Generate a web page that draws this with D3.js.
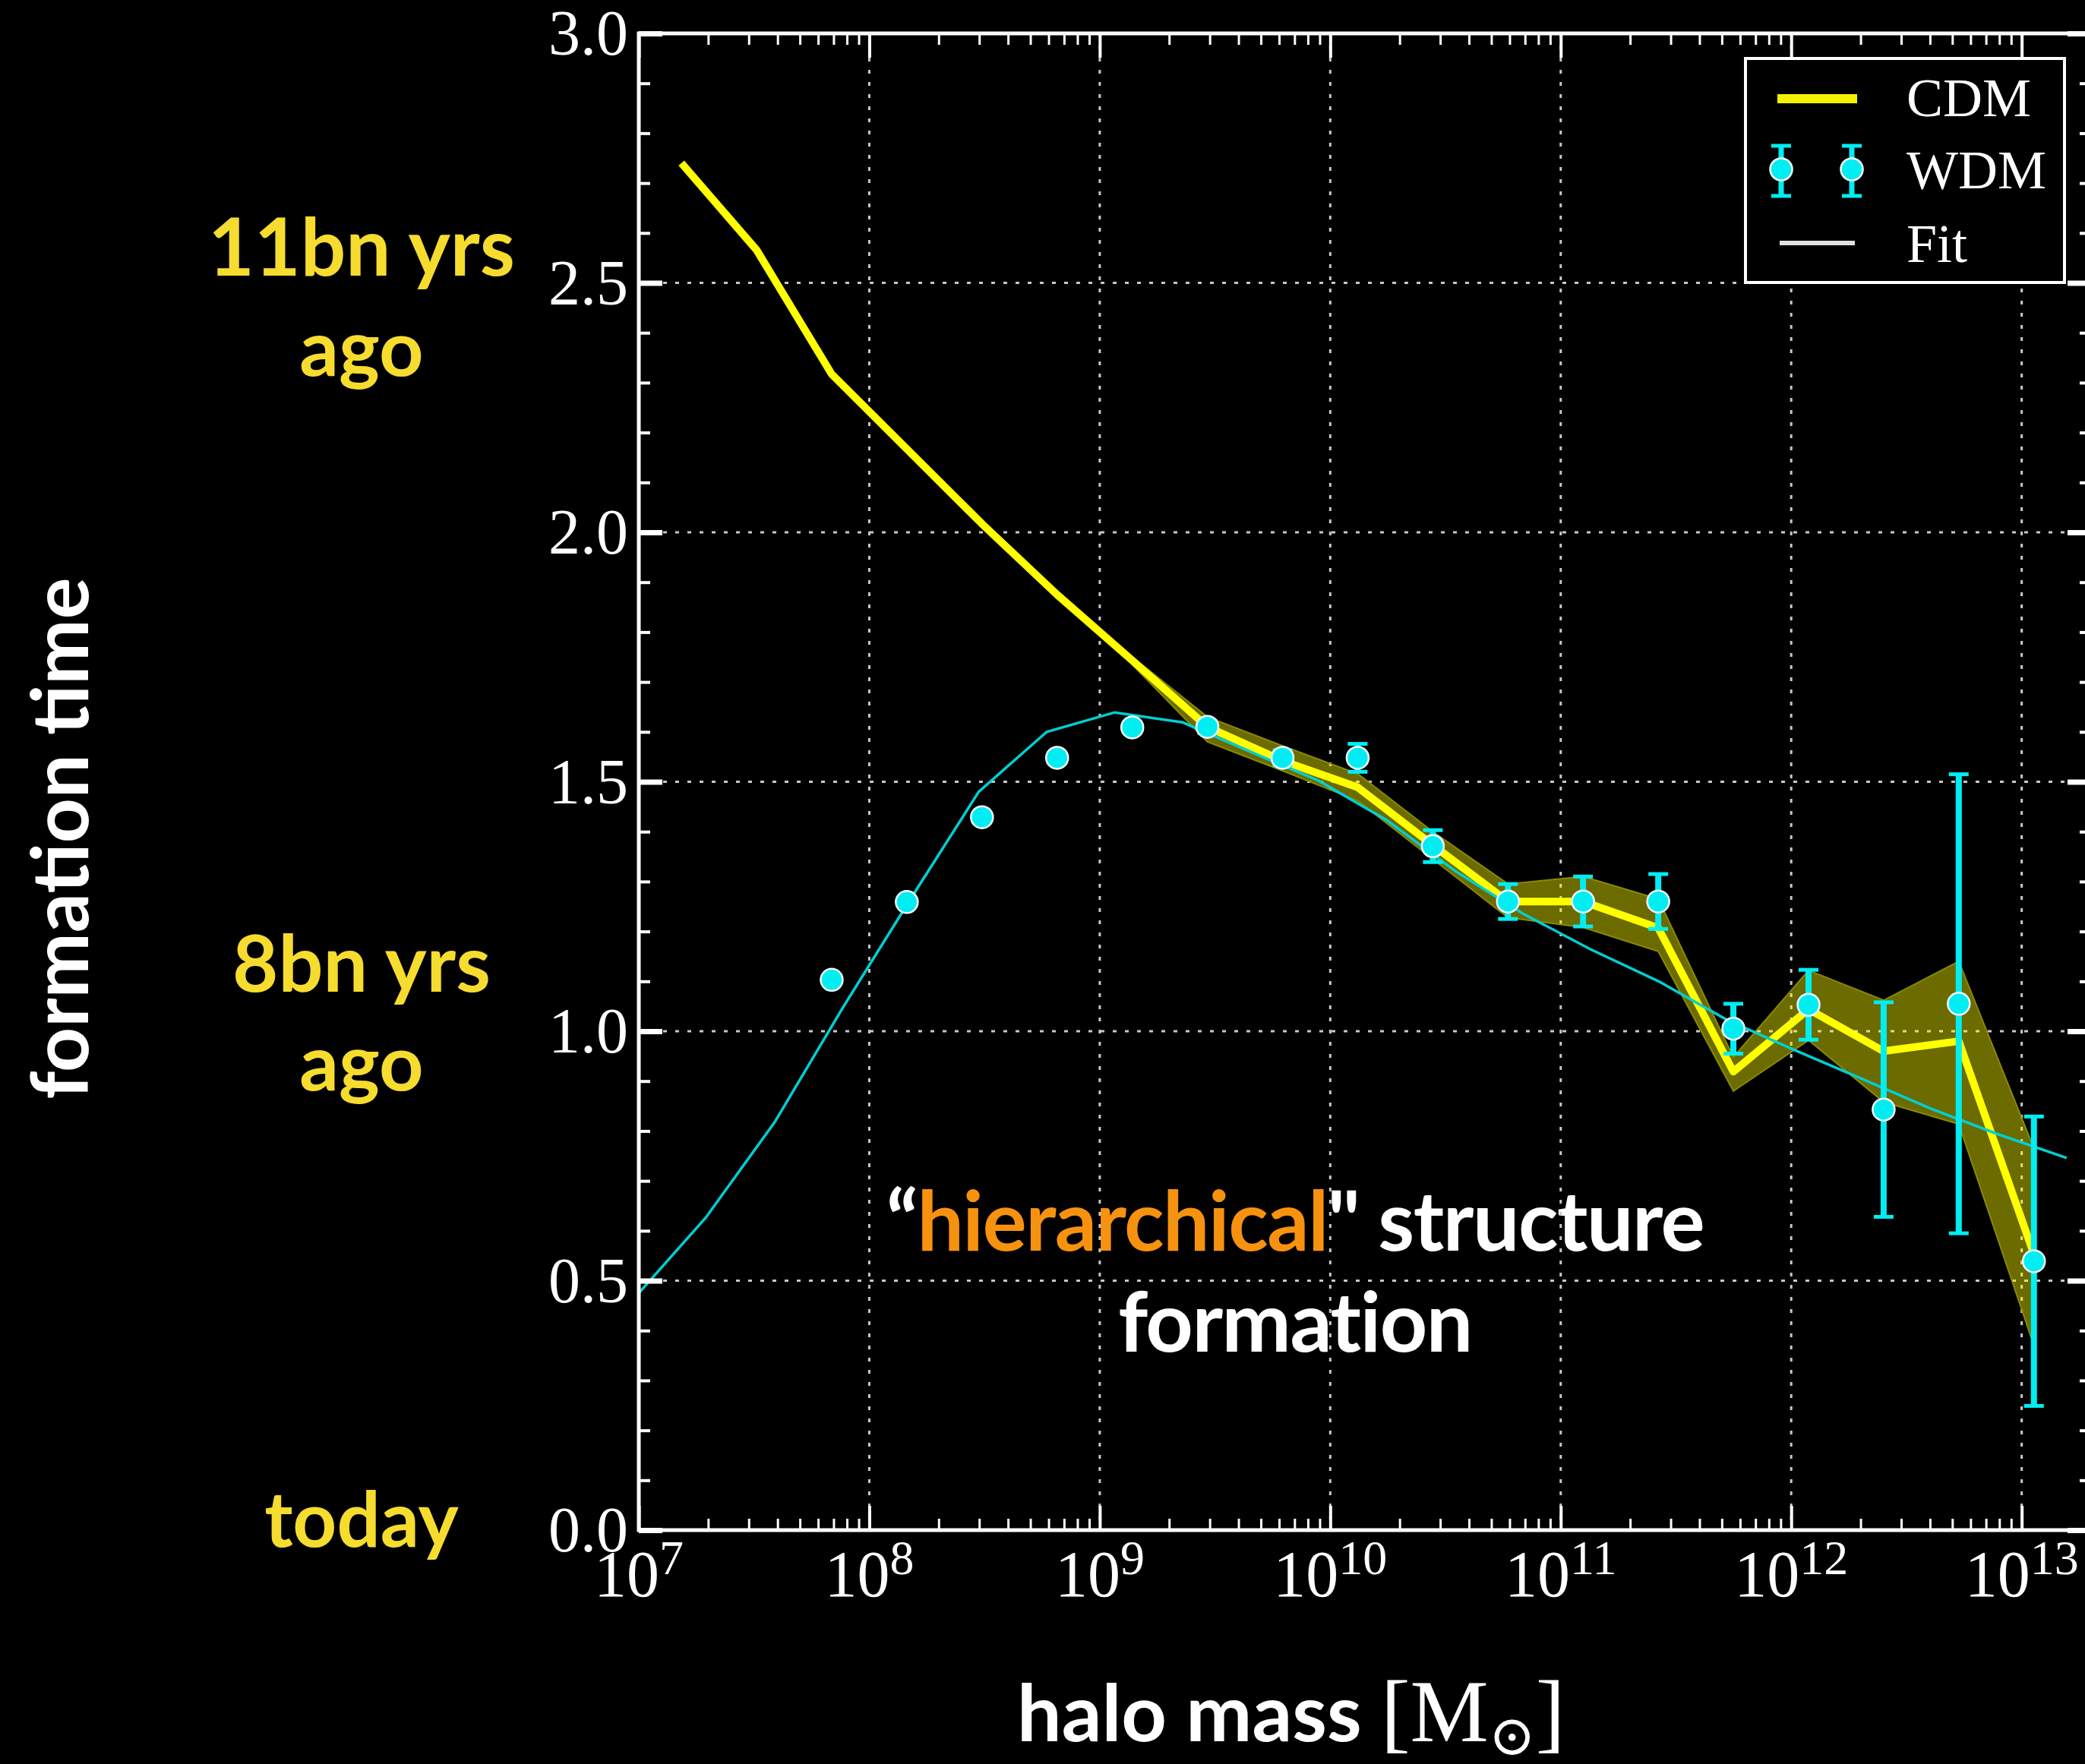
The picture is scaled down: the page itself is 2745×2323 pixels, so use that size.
<!DOCTYPE html>
<html>
<head>
<meta charset="utf-8">
<script src="https://cdn.jsdelivr.net/npm/d3@7"></script>
<style>
  html, body { margin: 0; padding: 0; background: #000; }
  svg { display: block; }
</style>
</head>
<body>
<svg id="chart" width="2745" height="2323"></svg>
<script>
// Halo mass bins [solar masses] shared by the CDM and WDM measurements
const binMass = [1.531e7, 3.243e7, 6.871e7, 1.455e8, 3.083e8, 6.531e8, 1.384e9, 2.931e9,
  6.209e9, 1.315e10, 2.786e10, 5.902e10, 1.250e11, 2.649e11, 5.610e11, 1.189e12,
  2.518e12, 5.333e12, 1.130e13];

// CDM median formation time and its scatter band
const cdmTime = [2.740, 2.566, 2.317, 2.167, 2.017, 1.875, 1.743, 1.610, 1.542, 1.489,
  1.373, 1.260, 1.260, 1.207, 0.919, 1.044, 0.960, 0.980, 0.553];
const cdmLow  = [null, null, null, null, null, null, 1.735, 1.580, 1.522, 1.462,
  1.345, 1.228, 1.208, 1.160, 0.880, 0.982, 0.858, 0.814, 0.370];
const cdmHigh = [null, null, null, null, null, null, 1.750, 1.630, 1.572, 1.516,
  1.400, 1.295, 1.310, 1.265, 0.948, 1.122, 1.062, 1.140, 0.765];

// WDM points with error bars
const wdmMass = [6.871e7, 1.455e8, 3.083e8, 6.531e8, 1.384e9, 2.931e9, 6.209e9, 1.315e10,
  2.786e10, 5.902e10, 1.250e11, 2.649e11, 5.610e11, 1.189e12, 2.518e12, 5.333e12, 1.130e13];
const wdmTime = [1.103, 1.259, 1.429, 1.548, 1.609, 1.610, 1.548, 1.548, 1.371, 1.260,
  1.260, 1.260, 1.005, 1.053, 0.843, 1.055, 0.539];
const wdmErr  = [0, 0.008, 0.010, 0.010, 0.010, 0.012, 0.015, 0.028, 0.032, 0.035,
  0.050, 0.055, 0.050, 0.070, 0.215, 0.460, 0.290];

// Fitted WDM relation
const fitMass = [1.0e7, 1.950e7, 3.890e7, 7.674e7, 1.514e8, 2.985e8, 5.888e8, 1.161e9,
  2.291e9, 4.519e9, 8.913e9, 1.758e10, 3.467e10, 6.839e10, 1.349e11, 2.661e11,
  5.248e11, 1.035e12, 2.042e12, 4.027e12, 7.943e12, 1.567e13];
const fitTime = [0.475, 0.626, 0.818, 1.047, 1.266, 1.480, 1.600, 1.639, 1.619, 1.560,
  1.502, 1.423, 1.322, 1.236, 1.164, 1.100, 1.023, 0.962, 0.904, 0.845, 0.793, 0.746];

// Axis ticks
const xDecades = [1e7, 1e8, 1e9, 1e10, 1e11, 1e12, 1e13];
const xExponents = ["7", "8", "9", "10", "11", "12", "13"];
const yMajor = [0, 0.5, 1.0, 1.5, 2.0, 2.5, 3.0];
const yLabels = ["0.0", "0.5", "1.0", "1.5", "2.0", "2.5", "3.0"];

const svg = d3.select("#chart");
svg.append("rect").attr("width", 2745).attr("height", 2323).attr("fill", "#000");

const plotLeft = 841, plotRight = 2753, plotTop = 44, plotBottom = 2015;
const x = d3.scaleLog().domain([1e7, 2e13]).range([plotLeft, plotRight]);
const y = d3.scaleLinear().domain([0, 3]).range([plotBottom, plotTop]);

const xMinor = [];
for (let e = 7; e <= 13; e++) for (let m = 2; m <= 9; m++) {
  const v = m * Math.pow(10, e);
  if (v <= 2e13) xMinor.push(v);
}
const yMinor = d3.range(0, 31).map(i => i / 10).filter(v => Math.round(v * 10) % 5 !== 0);

const sans = "Lato, 'Open Sans', sans-serif";
const serif = "'Liberation Serif', 'DejaVu Serif', serif";

// Annotation text (sits beneath the grid)
const ann = svg.append("g").attr("font-family", sans).attr("font-weight", 700);
const gold = "#F6DC2E";
[["11bn yrs", y(2.5) - 10, 105], ["ago", y(2.5) + 122, 102],
 ["8bn yrs", y(1.0) - 52, 104], ["ago", y(1.0) + 78, 102],
 ["today", y(0) + 22, 101]].forEach(([t, yy, fs]) => {
  ann.append("text").attr("x", 476).attr("y", yy).attr("text-anchor", "middle")
    .attr("font-size", fs).attr("fill", gold).text(t);
});

ann.append("text")
  .attr("transform", "translate(116,1104) rotate(-90)")
  .attr("text-anchor", "middle").attr("font-size", 103).attr("fill", "#fff")
  .text("formation time");

const h1 = ann.append("text").attr("x", 1705).attr("y", 1647)
  .attr("text-anchor", "middle").attr("font-size", 109).attr("fill", "#fff")
  .attr("letter-spacing", -1.5);
h1.append("tspan").text("\u201C");
h1.append("tspan").attr("fill", "#F7920F").text("hierarchical");
h1.append("tspan").text("\" structure");
ann.append("text").attr("x", 1705).attr("y", 1780)
  .attr("text-anchor", "middle").attr("font-size", 109).attr("fill", "#fff")
  .attr("letter-spacing", -1.5).text("formation");

const xl = ann.append("text").attr("x", 1339).attr("y", 2293).attr("fill", "#fff");
xl.append("tspan").attr("font-size", 104).text("halo mass ");
xl.append("tspan").attr("font-family", serif).attr("font-weight", 400).attr("font-size", 116).text("[M");
xl.append("tspan").attr("font-family", "'DejaVu Serif', serif").attr("font-weight", 400)
  .attr("font-size", 74).attr("dy", 18).text("\u2299");
xl.append("tspan").attr("font-family", serif).attr("font-weight", 400).attr("font-size", 116)
  .attr("dy", -18).text("]");

// Dotted grid
const grid = svg.append("g").attr("stroke", "#c8c8c8").attr("stroke-width", 3)
  .attr("stroke-dasharray", "5 11");
grid.selectAll("line.gx").data(xDecades.slice(1)).join("line")
  .attr("x1", d => x(d)).attr("x2", d => x(d)).attr("y1", plotTop).attr("y2", plotBottom);
grid.selectAll("line.gy").data(yMajor.slice(1, -1)).join("line")
  .attr("y1", d => y(d)).attr("y2", d => y(d)).attr("x1", plotLeft).attr("x2", plotRight);

// CDM scatter band
const bandIdx = d3.range(binMass.length).filter(i => cdmLow[i] !== null);
svg.append("path")
  .datum(bandIdx)
  .attr("fill", "#ffff00").attr("fill-opacity", 0.42)
  .attr("stroke", "#8a8a00").attr("stroke-width", 2)
  .attr("d", d3.area().x(i => x(binMass[i])).y0(i => y(cdmLow[i])).y1(i => y(cdmHigh[i])));

// CDM median line
svg.append("path")
  .datum(d3.range(binMass.length))
  .attr("fill", "none").attr("stroke", "#ffff00").attr("stroke-width", 10)
  .attr("stroke-linejoin", "round")
  .attr("d", d3.line().x(i => x(binMass[i])).y(i => y(cdmTime[i])));

// Fit line
svg.append("path")
  .datum(d3.range(fitMass.length))
  .attr("fill", "none").attr("stroke", "#00cfd2").attr("stroke-width", 3.5)
  .attr("d", d3.line().x(i => x(fitMass[i])).y(i => y(fitTime[i])));

// WDM error bars and points
const cyan = "#00eef2";
const wdm = svg.append("g");
const idx = d3.range(wdmMass.length).filter(i => wdmErr[i] > 0);
wdm.selectAll("line.bar").data(idx).join("line")
  .attr("stroke", cyan).attr("stroke-width", 8)
  .attr("x1", i => x(wdmMass[i])).attr("x2", i => x(wdmMass[i]))
  .attr("y1", i => y(wdmTime[i] + wdmErr[i])).attr("y2", i => y(wdmTime[i] - wdmErr[i]));
[1, -1].forEach(s => {
  wdm.append("g").selectAll("line").data(idx).join("line")
    .attr("stroke", cyan).attr("stroke-width", 5)
    .attr("x1", i => x(wdmMass[i]) - 13).attr("x2", i => x(wdmMass[i]) + 13)
    .attr("y1", i => y(wdmTime[i] + s * wdmErr[i])).attr("y2", i => y(wdmTime[i] + s * wdmErr[i]));
});
wdm.append("g").selectAll("circle").data(d3.range(wdmMass.length)).join("circle")
  .attr("cx", i => x(wdmMass[i])).attr("cy", i => y(wdmTime[i])).attr("r", 14.5)
  .attr("fill", cyan).attr("stroke", "#f4ffff").attr("stroke-width", 2.5);

// Axes: ticks on all four sides pointing inward
function styleAxis(g) {
  g.select(".domain").remove();
  g.selectAll(".tick line").attr("stroke", "#fff");
  g.selectAll(".tick text").remove();
}
function addAxis(axis, tx, ty, width) {
  svg.append("g").attr("transform", `translate(${tx},${ty})`)
    .call(axis.tickSizeOuter(0)).call(styleAxis)
    .selectAll(".tick line").attr("stroke-width", width);
}
addAxis(d3.axisTop(x).tickValues(xMinor).tickSize(15), 0, plotBottom, 3);
addAxis(d3.axisTop(x).tickValues(xDecades).tickSize(32), 0, plotBottom, 4);
addAxis(d3.axisBottom(x).tickValues(xMinor).tickSize(15), 0, plotTop, 3);
addAxis(d3.axisBottom(x).tickValues(xDecades).tickSize(32), 0, plotTop, 4);
addAxis(d3.axisRight(y).tickValues(yMinor).tickSize(15), plotLeft, 0, 4);
addAxis(d3.axisRight(y).tickValues(yMajor).tickSize(31), plotLeft, 0, 7);
addAxis(d3.axisLeft(y).tickValues(yMinor).tickSize(15), plotRight, 0, 4);
addAxis(d3.axisLeft(y).tickValues(yMajor).tickSize(31), plotRight, 0, 7);

// Frame
svg.append("rect").attr("x", plotLeft).attr("y", plotTop)
  .attr("width", plotRight - plotLeft).attr("height", plotBottom - plotTop)
  .attr("fill", "none").attr("stroke", "#fff").attr("stroke-width", 5);

// Tick labels
const tl = svg.append("g").attr("font-family", serif).attr("fill", "#fff");
tl.selectAll("text").data(yMajor).join("text")
  .attr("x", plotLeft - 14).attr("y", d => y(d) + 28).attr("text-anchor", "end")
  .attr("font-size", 84).text((d, i) => yLabels[i]);
xDecades.forEach((d, i) => {
  const t = tl.append("text").attr("x", x(d)).attr("y", 2102)
    .attr("text-anchor", "middle").attr("font-size", 86);
  t.append("tspan").text("10");
  t.append("tspan").attr("font-size", 64).attr("dy", -29).text(xExponents[i]);
});

// Legend
const lg = svg.append("g");
lg.append("rect").attr("x", 2298).attr("y", 77).attr("width", 420).attr("height", 295)
  .attr("fill", "#000").attr("stroke", "#fff").attr("stroke-width", 4);
lg.append("line").attr("x1", 2340).attr("x2", 2445).attr("y1", 130).attr("y2", 130)
  .attr("stroke", "#f2f200").attr("stroke-width", 12);
[2345, 2438].forEach(cx => {
  lg.append("line").attr("x1", cx).attr("x2", cx).attr("y1", 192).attr("y2", 258)
    .attr("stroke", cyan).attr("stroke-width", 7);
  [192, 258].forEach(cy => lg.append("line").attr("x1", cx - 13).attr("x2", cx + 13)
    .attr("y1", cy).attr("y2", cy).attr("stroke", cyan).attr("stroke-width", 5));
  lg.append("circle").attr("cx", cx).attr("cy", 223).attr("r", 14.5)
    .attr("fill", cyan).attr("stroke", "#f4ffff").attr("stroke-width", 2.5);
});
lg.append("line").attr("x1", 2343).attr("x2", 2442).attr("y1", 320).attr("y2", 320)
  .attr("stroke", "#e0e0e0").attr("stroke-width", 6);
const lt = lg.append("g").attr("font-family", serif).attr("font-size", 72).attr("fill", "#fff");
lt.append("text").attr("x", 2510).attr("y", 153).text("CDM");
lt.append("text").attr("x", 2510).attr("y", 248).text("WDM");
lt.append("text").attr("x", 2510).attr("y", 345).text("Fit");
</script>
</body>
</html>
